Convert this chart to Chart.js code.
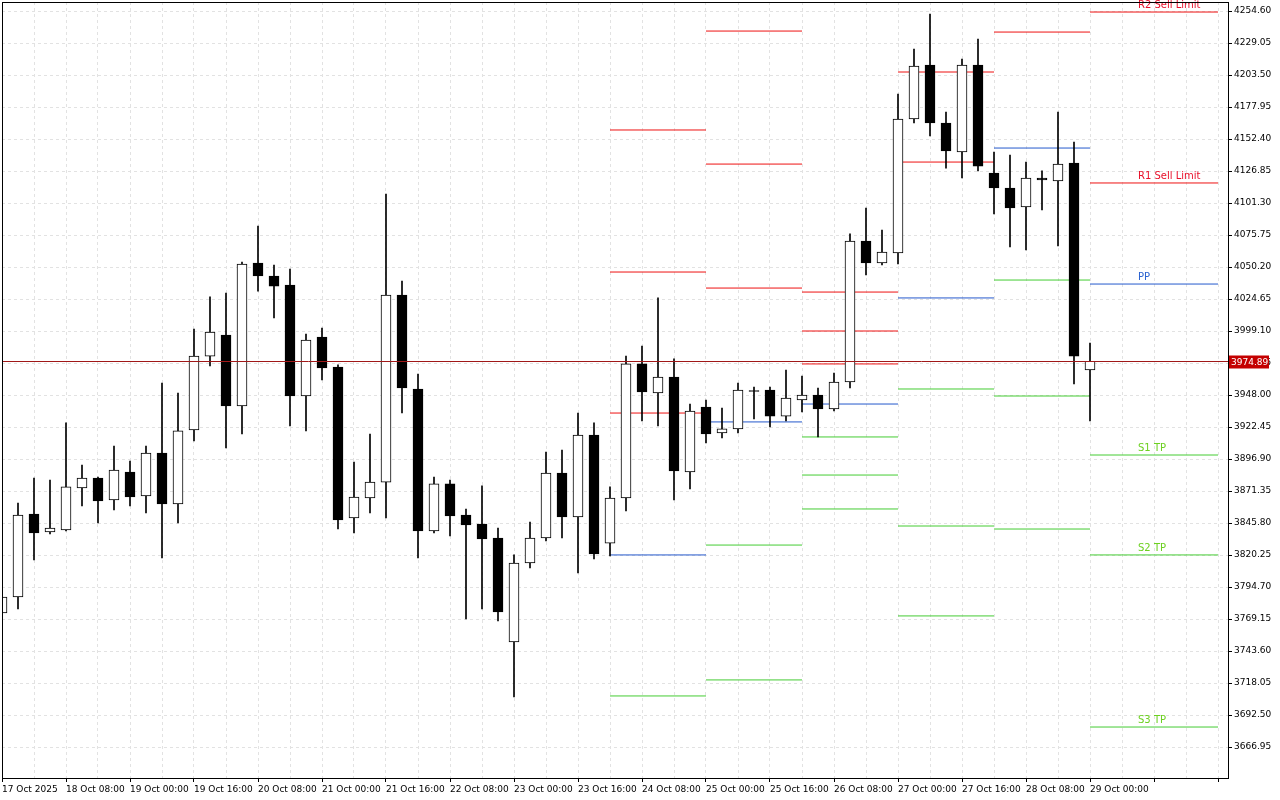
<!DOCTYPE html>
<html><head><meta charset="utf-8">
<script src="https://cdn.jsdelivr.net/npm/chart.js@4.4.1/dist/chart.umd.min.js"></script>
<style>html,body{margin:0;padding:0;background:#fff}#wrap{width:1280px;height:800px}</style>
</head><body><div id="wrap"><canvas id="c" width="1280" height="800"></canvas></div>
<script>
const timeLabels = ["17 Oct 2025","18 Oct 08:00","19 Oct 00:00","19 Oct 16:00","20 Oct 08:00","21 Oct 00:00","21 Oct 16:00","22 Oct 08:00","23 Oct 00:00","23 Oct 16:00","24 Oct 08:00","25 Oct 00:00","25 Oct 16:00","26 Oct 08:00","27 Oct 00:00","27 Oct 16:00","28 Oct 08:00","29 Oct 00:00"];
const openP = [3774.0,3786.7,3853.0,3838.6,3840.2,3873.8,3881.7,3864.2,3886.5,3867.4,3901.7,3861.0,3920.1,3979.1,3995.9,3939.2,4053.4,4043.0,4035.8,3947.2,3994.3,3970.4,3849.8,3865.8,3878.5,4027.8,3952.8,3839.4,3877.0,3852.2,3845.0,3833.8,3750.8,3813.9,3833.8,3885.7,3850.6,3916.1,3829.8,3865.8,3972.8,3949.6,3962.4,3886.5,3938.4,3917.7,3920.9,3951.6,3952.0,3931.2,3944.0,3948.0,3936.8,3958.4,4071.0,4053.4,4061.4,4168.4,4211.5,4165.2,4142.0,4211.5,4125.3,4113.3,4098.1,4121.3,4118.9,4133.2,3968.0];
const highP = [3787.5,3861.8,3881.7,3880.1,3925.7,3892.1,3882.5,3907.3,3895.3,3907.3,3957.6,3949.6,4000.7,4026.3,4029.4,4054.2,4082.9,4051.8,4048.6,3996.7,4001.5,3972.0,3894.5,3916.9,4108.5,4039.0,3964.8,3882.5,3880.1,3857.0,3875.4,3841.8,3820.3,3846.6,3902.5,3904.1,3933.6,3925.7,3874.6,3979.1,3987.1,4025.5,3976.8,3940.8,3944.0,3937.6,3957.6,3954.4,3954.4,3968.0,3963.2,3953.6,3965.6,4076.6,4097.3,4079.7,4188.3,4224.3,4252.2,4174.0,4216.3,4232.2,4142.0,4139.6,4134.0,4126.9,4174.0,4150.0,3989.5];
const lowP = [3772.0,3777.2,3816.3,3837.0,3839.4,3859.4,3845.8,3856.2,3859.4,3853.8,3817.9,3845.8,3911.3,3971.2,3905.7,3916.9,4031.0,4009.5,3923.3,3919.3,3960.0,3841.0,3837.8,3853.8,3849.8,3933.6,3817.9,3837.8,3835.4,3769.2,3777.2,3767.6,3706.9,3809.9,3831.4,3833.8,3805.9,3817.1,3819.5,3855.4,3927.3,3923.3,3864.2,3873.0,3909.7,3913.7,3917.7,3928.9,3922.5,3927.3,3934.4,3914.5,3935.2,3953.6,4043.8,4051.8,4052.6,4165.2,4154.8,4129.2,4121.3,4126.9,4092.5,4066.2,4063.8,4095.7,4067.0,3956.8,3927.3];
const closeP = [3786.7,3852.2,3837.8,3841.8,3874.6,3881.7,3863.4,3888.1,3866.6,3901.7,3861.0,3919.3,3979.1,3998.3,3939.2,4052.6,4043.0,4035.0,3947.2,3991.9,3969.6,3848.2,3866.6,3878.5,4027.8,3953.6,3839.4,3877.0,3851.4,3844.2,3833.0,3774.8,3813.9,3833.8,3885.7,3850.6,3916.1,3821.1,3865.8,3972.8,3950.4,3962.4,3887.3,3935.2,3916.9,3920.9,3952.0,3950.8,3931.2,3945.6,3948.0,3936.8,3958.4,4071.0,4053.4,4062.2,4168.4,4210.7,4165.2,4142.8,4211.5,4130.8,4113.3,4097.3,4121.3,4119.7,4132.4,3979.1,3974.89];
const yTicks = [3666.95,3692.50,3718.05,3743.60,3769.15,3794.70,3820.25,3845.80,3871.35,3896.90,3922.45,3948.00,3973.55,3999.10,4024.65,4050.20,4075.75,4101.30,4126.85,4152.40,4177.95,4203.50,4229.05,4254.60];
const currentPrice = 3974.89;
// pivot segments: [startBar, endBar, level]
const redLevels = [[38,44,4159.6],[38,44,4046.2],[38,44,3933.6],[44,50,4238.6],[44,50,4132.4],[44,50,4033.4],[50,56,4030.2],[50,56,3999.1],[50,56,3972.8],[56,62,4205.9],[56,62,4134.0],[62,68,4237.8],[68,76,4253.8],[68,76,4117.3]];
const blueLevels = [[38,44,3820.3],[44,50,3926.5],[50,56,3940.8],[56,62,4025.5],[62,68,4145.2],[68,76,4036.6]];
const greenLevels = [[38,44,3707.7],[44,50,3828.2],[44,50,3720.5],[50,56,3914.5],[50,56,3884.1],[50,56,3857.0],[56,62,3952.8],[56,62,3843.4],[56,62,3771.6],[62,68,4039.8],[62,68,3947.2],[62,68,3841.0],[68,76,3900.1],[68,76,3820.3],[68,76,3682.9]];
const levelTags = [["R2 Sell Limit",4253.8,"#e8102a"],["R1 Sell Limit",4117.3,"#e8102a"],["PP",4036.6,"#2a62d0"],["S1 TP",3900.1,"#6cd020"],["S2 TP",3820.3,"#6cd020"],["S3 TP",3682.9,"#6cd020"]];

function segData(arr){const d=[];arr.forEach(s=>{d.push({x:s[0],y:s[2]});d.push({x:s[1],y:s[2]});d.push({x:s[1],y:null});});return d;}
const bodies = openP.map((o,i)=>({x:i,y:[o,closeP[i]]}));
const wicks = highP.map((h,i)=>({x:i,y:[lowP[i],h]}));
const bodyColors = openP.map((o,i)=>closeP[i]>=o?'#ffffff':'#000000');

const FONT = "'DejaVu Sans', sans-serif";
const overlay = {
  id:'overlay',
  afterDatasetsDraw(chart){
    const ctx=chart.ctx, xs=chart.scales.x, ys=chart.scales.y, a=chart.chartArea;
    ctx.save();
    ctx.font="10px "+FONT; ctx.textBaseline='bottom'; ctx.textAlign='left';
    levelTags.forEach(t=>{ctx.fillStyle=t[2];ctx.fillText(t[0],xs.getPixelForValue(71),ys.getPixelForValue(t[1])-2);});
    const py=Math.round(ys.getPixelForValue(currentPrice))+0.5;
    ctx.strokeStyle='#a01818'; ctx.lineWidth=1;
    ctx.beginPath(); ctx.moveTo(a.left,py); ctx.lineTo(a.right,py); ctx.stroke();
    ctx.fillStyle='#c40000'; ctx.fillRect(a.right+1,py-6,40,13);
    ctx.font="9px "+FONT;
    ctx.fillStyle='#fff'; ctx.textBaseline='middle'; ctx.fillText(currentPrice.toFixed(2),a.right+3,py+1);
    ctx.strokeStyle='#000'; ctx.strokeRect(a.left+0.5,a.top+0.5,a.right-a.left,a.bottom-a.top);
    ctx.restore();
  }
};

new Chart(document.getElementById('c'),{
  type:'bar',
  data:{datasets:[
    {type:'bar',data:bodies,backgroundColor:bodyColors,borderColor:'#000',borderWidth:1,borderSkipped:false,barThickness:10,grouped:false,order:0},
    {type:'bar',data:wicks,backgroundColor:'#000',borderWidth:0,barThickness:1,grouped:false,order:1},
    {type:'line',data:segData(redLevels),borderColor:'#ee1111',borderWidth:1,pointRadius:0,spanGaps:false,order:2},
    {type:'line',data:segData(blueLevels),borderColor:'#2458cc',borderWidth:1,pointRadius:0,spanGaps:false,order:2},
    {type:'line',data:segData(greenLevels),borderColor:'#44cc33',borderWidth:1,pointRadius:0,spanGaps:false,order:2}
  ]},
  options:{
    responsive:false,animation:false,
    layout:{autoPadding:false,padding:{left:2,top:2,right:0,bottom:0}},
    plugins:{legend:{display:false},tooltip:{enabled:false}},
    scales:{
      x:{type:'linear',min:0,max:76.625,offset:false,
        afterBuildTicks(s){const t=[];for(let v=0;v<=76;v+=2)t.push({value:v});s.ticks=t;},
        afterFit(s){s.height=22;s.paddingLeft=0;s.paddingRight=0;},
        grid:{offset:false,color:'#e2e2e2',drawTicks:true,tickLength:4,tickColor:(c)=>c.tick&&c.tick.value%4===0?'#000':'rgba(0,0,0,0)'},
        border:{display:true,color:'#000',dash:[3,3]},
        ticks:{autoSkip:false,maxRotation:0,align:'start',padding:2,color:'#000',font:{family:FONT,size:9},
          callback:(v)=>v%4===0?(timeLabels[v/4]||''):''}
      },
      y:{type:'linear',position:'right',min:3642.2,max:4261.8,
        afterBuildTicks(s){s.ticks=yTicks.map(v=>({value:v}));},
        afterFit(s){s.width=52;s.paddingTop=0;s.paddingBottom=0;},
        grid:{color:'#e2e2e2',tickLength:4,tickColor:'#000'},
        border:{display:true,color:'#000',dash:[3,3]},
        ticks:{padding:2,color:'#000',font:{family:FONT,size:9},callback:(v)=>v.toFixed(2)}
      }
    }
  },
  plugins:[overlay]
});
</script></body></html>
